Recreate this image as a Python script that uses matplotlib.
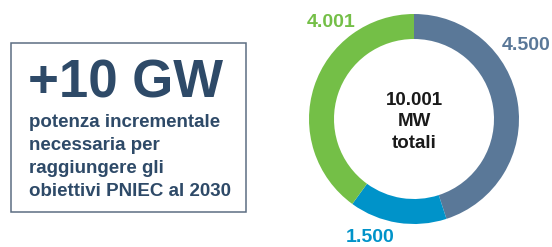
import matplotlib.pyplot as plt
from matplotlib.patches import Rectangle

plt.rcParams['font.family'] = ['Liberation Sans', 'DejaVu Sans']

# donut data
values = [4500, 1500, 4001]
labels = ['4.500', '1.500', '4.001']
colors = ['#5a7898', '#0093c9', '#74bf47']
center_lines = ['10.001', 'MW', 'totali']

headline = '+10 GW'
sub_lines = ['potenza incrementale', 'necessaria per',
             'raggiungere gli', 'obiettivi PNIEC al 2030']

navy = '#2e4a68'
W, H = 552, 247

fig = plt.figure(figsize=(W / 100, H / 100), dpi=100)
ax = fig.add_axes([0, 0, 1, 1])
ax.set_xlim(0, W)
ax.set_ylim(0, H)
ax.axis('off')

# left box (y given as pixels from top, flipped)
ax.add_patch(Rectangle((11, H - 212), 235, 169, fill=False,
                       edgecolor='#5c6e82', lw=1.1))
ax.text(28, H - 98, headline, fontsize=38, fontweight='bold', color=navy,
        ha='left', va='baseline')
for i, line in enumerate(sub_lines):
    ax.text(29, H - (127 + 23 * i), line, fontsize=13.5, fontweight='bold',
            color=navy, ha='left', va='baseline')

# donut
cx, cy, r = 414, H - 119, 105
ax.pie(values, colors=colors, startangle=90, counterclock=False,
       center=(cx, cy), radius=r, wedgeprops=dict(width=25, linewidth=0),
       frame=True)
ax.set_xlim(0, W)
ax.set_ylim(0, H)
ax.axis('off')

# value labels
label_pos = [(526, 50), (370, 242), (331, 27)]
for lab, col, (x, y) in zip(labels, colors, label_pos):
    ax.text(x, H - y, lab, fontsize=14, fontweight='bold', color=col,
            ha='center', va='baseline')

for i, line in enumerate(center_lines):
    ax.text(cx, H - (105 + 21.5 * i), line, fontsize=13.5, fontweight='bold',
            color='#1a1a1a', ha='center', va='baseline')

fig.savefig('out.png', dpi=100)
